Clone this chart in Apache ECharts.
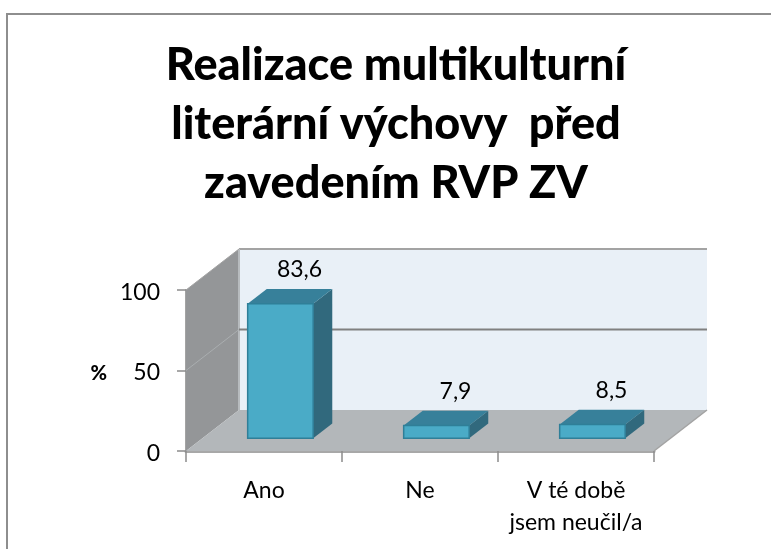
<!DOCTYPE html>
<html>
<head>
<meta charset="utf-8">
<style>
  html, body { margin: 0; padding: 0; background: #fff; }
  #chart { width: 771px; height: 549px; }
</style>
<script src="https://cdn.jsdelivr.net/npm/echarts@6/dist/echarts.min.js"></script>
</head>
<body>
<div id="chart"></div>
<script>
const categories = ['Ano', 'Ne', 'V té době\njsem neučil/a']
const values = [83.6, 7.9, 8.5]
const valueTicks = [0, 50, 100]
const chartTitle = 'Realizace multikulturní\nliterární výchovy  před\nzavedením RVP ZV'

const font = 'Lato, Carlito, sans-serif'
const depthX = 53
const depthY = 41
const barFront = 0.31
const barBack = 0.67
const barWidth = 0.42

const chart = echarts.init(document.getElementById('chart'))

// shifts a front-plane point back into the fake 3D depth
function shift(p, d) {
  return [p[0] + d * depthX, p[1] - d * depthY]
}

function poly(points, fill) {
  return { type: 'polygon', shape: { points }, style: { fill } }
}

function line(a, b, stroke, lineWidth) {
  return {
    type: 'line',
    shape: { x1: a[0], y1: a[1], x2: b[0], y2: b[1] },
    style: { stroke, lineWidth }
  }
}

function renderWalls(params, api) {
  const sys = params.coordSys
  const x0 = sys.x
  const x1 = sys.x + sys.width
  const yAt = v => api.coord([0, v])[1]
  const bottom = yAt(valueTicks[0])
  const top = yAt(valueTicks[valueTicks.length - 1])
  const children = [
    poly([shift([x0, top], 1), shift([x1, top], 1), shift([x1, bottom], 1), shift([x0, bottom], 1)], '#e9f0f7'),
    poly([[x0, top], shift([x0, top], 1), shift([x0, bottom], 1), [x0, bottom]], '#949698'),
    poly([[x0, bottom], [x1, bottom], shift([x1, bottom], 1), shift([x0, bottom], 1)], '#b3b7ba'),
    line(shift([x0, top], 1), shift([x1, top], 1), '#a3a3a3', 2),
    line(shift([x0, top], 1), shift([x0, bottom], 1), '#b7bbbe', 2),
    line([x0, top], shift([x0, top], 1), '#a3a3a3', 1),
    line([x1, bottom], shift([x1, bottom], 1), '#a3a3a3', 1.5)
  ]
  valueTicks.slice(1, -1).forEach(v => {
    const p = [x0, yAt(v)]
    children.push(line(shift(p, 1), shift([x1, p[1]], 1), '#808080', 2))
    children.push(line(p, shift(p, 1), '#aaaeb0', 1))
  })
  return { type: 'group', children }
}

function renderBar(params, api) {
  const i = api.value(0)
  const v = api.value(1)
  const cx = api.coord([i, 0])[0]
  const w = api.size([1, 0])[0] * barWidth
  const y0 = api.coord([i, 0])[1]
  const y1 = api.coord([i, v])[1]
  const l = cx - w / 2
  const r = cx + w / 2
  const fl0 = shift([l, y0], barFront)
  const fr0 = shift([r, y0], barFront)
  const fl1 = shift([l, y1], barFront)
  const fr1 = shift([r, y1], barFront)
  const bl1 = shift([l, y1], barBack)
  const br1 = shift([r, y1], barBack)
  const br0 = shift([r, y0], barBack)
  const front = poly([fl1, fr1, fr0, fl0], '#4aabc7')
  front.style.stroke = '#2f7f98'
  front.style.lineWidth = 1.5
  return {
    type: 'group',
    children: [
      poly([fr1, br1, br0, fr0], '#31697d'),
      poly([fl1, bl1, br1, fr1], '#37809a'),
      front,
      {
        type: 'text',
        style: {
          x: (bl1[0] + br1[0]) / 2,
          y: br1[1] - 19,
          text: String(v).replace('.', ','),
          fill: '#000',
          font: '23px ' + font,
          align: 'center',
          verticalAlign: 'middle'
        }
      }
    ]
  }
}

chart.setOption({
  backgroundColor: '#fff',
  animation: false,
  title: {
    text: chartTitle,
    left: 391,
    top: 31,
    textAlign: 'center',
    textStyle: {
      color: '#000',
      fontFamily: font,
      fontWeight: 900,
      fontSize: 45,
      lineHeight: 59
    }
  },
  graphic: [{
    type: 'polyline',
    shape: { points: [[7, 549], [7, 14], [771, 14]] },
    style: { stroke: '#8e8e8e', lineWidth: 2, fill: 'none' },
    silent: true
  }],
  grid: { left: 186, right: 117, top: 290, bottom: 98 },
  xAxis: {
    type: 'category',
    data: categories,
    axisLine: { lineStyle: { color: '#a8a8a8', width: 3 } },
    axisTick: { show: true, interval: 0, alignWithLabel: false, length: 11, lineStyle: { color: '#8c8c8c', width: 1.5 } },
    axisLabel: { interval: 0, color: '#000', fontFamily: font, fontSize: 23, lineHeight: 32, margin: 24 }
  },
  yAxis: {
    type: 'value',
    min: 0,
    max: 100,
    interval: 50,
    name: '{pct|%}',
    nameLocation: 'middle',
    nameRotate: 0,
    nameGap: 79,
    nameTextStyle: {
      rich: {
        pct: { color: '#000', fontFamily: font, fontWeight: 900, fontSize: 20, padding: [6, 0, 0, 0] }
      }
    },
    axisLine: { show: true, lineStyle: { color: '#a3a3a3', width: 2 } },
    axisTick: { show: true, length: 9, lineStyle: { color: '#8c8c8c', width: 1.5 } },
    axisLabel: {
      formatter: '{num|{value}}',
      margin: 26,
      rich: {
        num: { color: '#000', fontFamily: font, fontSize: 23, padding: [5, 0, 0, 0] }
      }
    },
    splitLine: { show: false }
  },
  series: [
    {
      type: 'custom',
      name: 'walls',
      silent: true,
      clip: false,
      z: 1,
      renderItem: renderWalls,
      data: [[0, 0]]
    },
    {
      type: 'custom',
      name: 'Realizace',
      clip: false,
      z: 2,
      renderItem: renderBar,
      encode: { x: 0, y: 1 },
      data: values.map((v, i) => [i, v])
    }
  ]
})

window.addEventListener('resize', () => chart.resize())
</script>
</body>
</html>
